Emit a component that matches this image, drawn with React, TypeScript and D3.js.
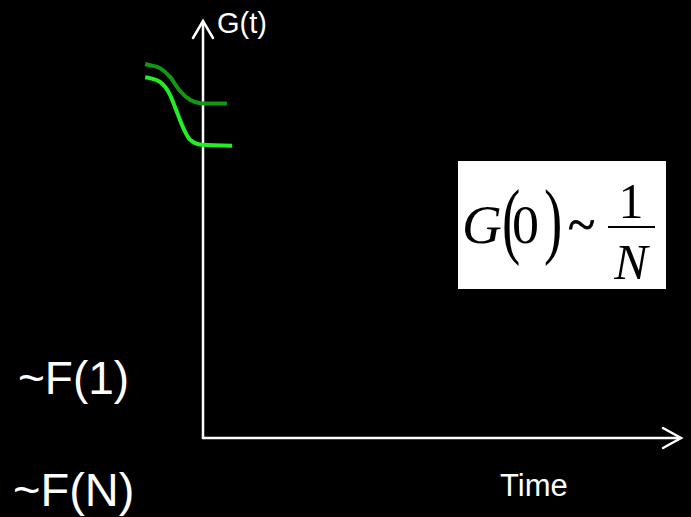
import React from "react";
import * as d3 from "d3";

const W = 691;
const H = 517;

// Curve data (time, G)
const darkTime = [-1.21, -1.11, -0.9, -0.69, -0.48, -0.27, -0.06, 0.5];
const darkG = [0.897, 0.894, 0.887, 0.866, 0.832, 0.811, 0.803, 0.802];
const brightTime = [-1.21, -1.11, -0.9, -0.69, -0.55, -0.41, -0.27, -0.03, 0.61];
const brightG = [0.865, 0.863, 0.854, 0.823, 0.783, 0.743, 0.715, 0.703, 0.701];

const timeDomain = [0, 10];
const gDomain = [0, 1];

const yLabel = "G(t)";
const xLabel = "Time";
const leftLabels = ["~F(1)", "~F(N)"];

export default function App() {
  const x = d3.scaleLinear().domain(timeDomain).range([203, 681]);
  const y = d3.scaleLinear().domain(gDomain).range([438, 21]);

  const line = d3
    .line<[number, number]>()
    .x((d) => x(d[0]))
    .y((d) => y(d[1]))
    .curve(d3.curveMonotoneX);

  const dark = line(darkTime.map((t, i) => [t, darkG[i]] as [number, number])) || "";
  const bright = line(brightTime.map((t, i) => [t, brightG[i]] as [number, number])) || "";

  const x0 = x(0);
  const y0 = y(0);
  const yTop = y(1);
  const xEnd = x(10);

  return (
    <svg
      width={W}
      height={H}
      style={{ position: "fixed", left: 0, top: 0, display: "block", background: "#000" }}
    >
      <rect x={0} y={0} width={W} height={H} fill="#000" />
      {/* axes */}
      <g stroke="#fff" strokeWidth={2.5} fill="none" strokeLinecap="round">
        <line x1={x0} y1={y0} x2={x0} y2={yTop + 1} />
        <polyline points={`${x0 - 10},${yTop + 17} ${x0},${yTop} ${x0 + 10},${yTop + 17}`} />
        <line x1={x0} y1={y0} x2={xEnd - 1} y2={y0} />
        <polyline points={`${xEnd - 18},${y0 - 10} ${xEnd},${y0} ${xEnd - 18},${y0 + 10}`} />
      </g>
      {/* curves */}
      <path d={dark} fill="none" stroke="#119911" strokeWidth={4} />
      <path d={bright} fill="none" stroke="#22ee22" strokeWidth={4} />
      {/* labels */}
      <g fill="#fff" fontFamily="'Liberation Sans', Arial, sans-serif">
        <text x={217} y={33} fontSize={29}>{yLabel}</text>
        <text x={500} y={496} fontSize={31}>{xLabel}</text>
        <text x={18} y={394} fontSize={46}>{leftLabels[0]}</text>
        <text x={13} y={506} fontSize={47}>{leftLabels[1]}</text>
      </g>
      {/* formula box */}
      <rect x={458} y={161} width={208} height={128} fill="#fff" />
      <g fill="#000" fontFamily="'Liberation Serif', 'Times New Roman', serif">
        <text x={462} y={243} fontSize={55} fontStyle="italic">G</text>
        <text transform="translate(502,247.5) scale(1,1.55)" x={0} y={0} fontSize={55}>(</text>
        <text x={512} y={243} fontSize={54}>0</text>
        <text transform="translate(544,247.5) scale(1,1.55)" x={0} y={0} fontSize={55}>)</text>
        <text x={568} y={241} fontSize={50} stroke="#000" strokeWidth={0.8}>~</text>
        <line x1={608} y1={227} x2={655} y2={227} stroke="#000" strokeWidth={2} />
        <text x={631} y={218} fontSize={50} textAnchor="middle">1</text>
        <text x={631} y={279} fontSize={50} fontStyle="italic" textAnchor="middle">N</text>
      </g>
    </svg>
  );
}
